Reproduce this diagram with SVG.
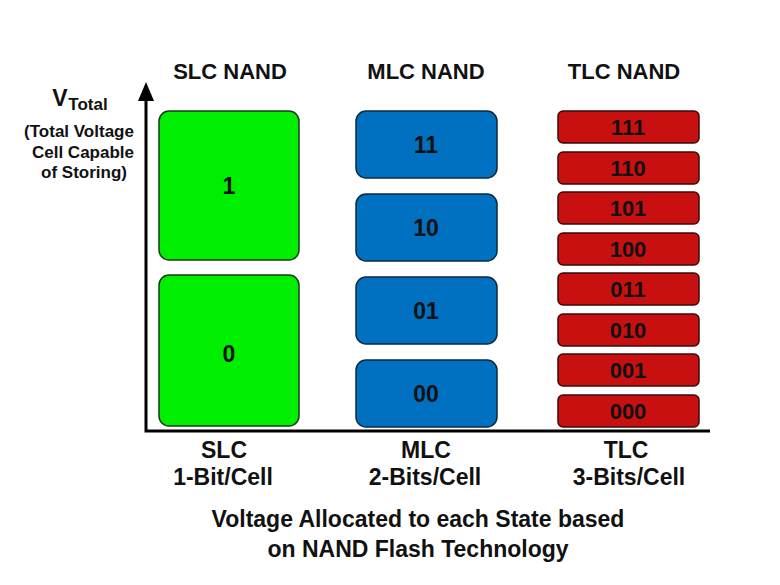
<svg xmlns="http://www.w3.org/2000/svg" width="780" height="585" viewBox="0 0 780 585">
<defs>
<style>
text{font-family:"Liberation Sans",Arial,sans-serif;font-weight:bold;fill:#111;text-anchor:middle}
.h{font-size:22px}
.lbl{font-size:23px}
.bl{font-size:23px}
.rl{font-size:22px}
.yl{font-size:17px}
.g{fill:#00EE00;stroke:#1a3a1a;stroke-width:1.5}
.b{fill:#0070C0;stroke:#0d2a40;stroke-width:1.5}
.r{fill:#C81010;stroke:#3a0a0a;stroke-width:1.5}
.ax{stroke:#000;stroke-width:3;fill:none}
</style>
</defs>
<rect width="780" height="585" fill="#fff"/>
<g id="connectors">
<path class="ax" d="M146,98 V431 H710"/>
<path d="M138,101 L146,82 L154,101 z" fill="#000"/>
</g>
<g id="y-label">
<text x="60" y="106" style="font-size:23px">V</text>
<text x="88" y="110" style="font-size:17px">Total</text>
<text class="yl" x="79" y="137">(Total Voltage</text>
<text class="yl" x="83" y="158">Cell Capable</text>
<text class="yl" x="84" y="178">of Storing)</text>
</g>
<g id="headings">
<text class="h" x="230" y="79">SLC NAND</text>
<text class="h" x="426" y="79">MLC NAND</text>
<text class="h" x="624" y="79">TLC NAND</text>
</g>
<g id="slc-1"><rect class="g" x="159" y="111" width="140" height="149" rx="10"/><text class="bl" x="229" y="194">1</text></g>
<g id="slc-0"><rect class="g" x="159" y="275" width="140" height="151" rx="10"/><text class="bl" x="229" y="362">0</text></g>
<g id="mlc-11"><rect class="b" x="356" y="111" width="141" height="67" rx="10"/><text class="bl" x="426" y="153">11</text></g>
<g id="mlc-10"><rect class="b" x="356" y="194" width="141" height="67" rx="10"/><text class="bl" x="426" y="236">10</text></g>
<g id="mlc-01"><rect class="b" x="356" y="277" width="141" height="67" rx="10"/><text class="bl" x="426" y="319">01</text></g>
<g id="mlc-00"><rect class="b" x="356" y="360" width="141" height="67" rx="10"/><text class="bl" x="426" y="402">00</text></g>
<g id="tlc-111"><rect class="r" x="558" y="111" width="141" height="32" rx="5"/><text class="rl" x="628" y="135">111</text></g>
<g id="tlc-110"><rect class="r" x="558" y="152" width="141" height="32" rx="5"/><text class="rl" x="628" y="176">110</text></g>
<g id="tlc-101"><rect class="r" x="558" y="192" width="141" height="32" rx="5"/><text class="rl" x="628" y="216">101</text></g>
<g id="tlc-100"><rect class="r" x="558" y="233" width="141" height="32" rx="5"/><text class="rl" x="628" y="257">100</text></g>
<g id="tlc-011"><rect class="r" x="558" y="273" width="141" height="32" rx="5"/><text class="rl" x="628" y="297">011</text></g>
<g id="tlc-010"><rect class="r" x="558" y="314" width="141" height="32" rx="5"/><text class="rl" x="628" y="338">010</text></g>
<g id="tlc-001"><rect class="r" x="558" y="354" width="141" height="32" rx="5"/><text class="rl" x="628" y="378">001</text></g>
<g id="tlc-000"><rect class="r" x="558" y="395" width="141" height="32" rx="5"/><text class="rl" x="628" y="419">000</text></g>
<g id="bottom-labels">
<text class="lbl" x="224" y="458">SLC</text>
<text class="lbl" x="223" y="485">1-Bit/Cell</text>
<text class="lbl" x="426" y="458">MLC</text>
<text class="lbl" x="425" y="485">2-Bits/Cell</text>
<text class="lbl" x="626" y="458">TLC</text>
<text class="lbl" x="629" y="485">3-Bits/Cell</text>
</g>
<g id="caption">
<text class="lbl" x="418" y="527">Voltage Allocated to each State based</text>
<text class="lbl" x="418" y="557">on NAND Flash Technology</text>
</g>
</svg>
